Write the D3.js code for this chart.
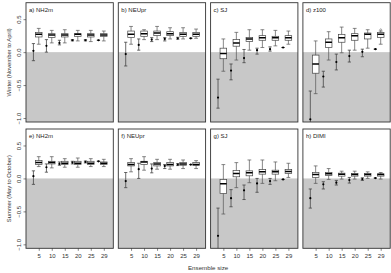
<!DOCTYPE html>
<html>
<head>
<meta charset="utf-8">
<script src="https://cdn.jsdelivr.net/npm/d3@7"></script>
<style>
  body { margin: 0; background: #fff; }
  text { font-family: "Liberation Sans", Arial, sans-serif; }
</style>
</head>
<body>
<div id="chart"></div>
<script>
const ensembleSizes = [5, 10, 15, 20, 25, 29];
const yTicks = [0.5, 0.0, -0.5, -1.0];
const panelLabels = ["a) NH2m", "b) NEUpr", "c) SJ", "d) z100", "e) NH2m", "f) NEUpr", "g) SJ", "h) DIMI"];
const rowTitles = ["Winter (November to April)", "Summer (May to October)"];

// boxes: [whisker low, q1, median, q3, whisker high]
// points: [mean, error low, error high]
const boxA = [[0.12, 0.23, 0.27, 0.30, 0.36], [0.14, 0.22, 0.26, 0.28, 0.33], [0.14, 0.23, 0.26, 0.28, 0.34], [0.17, 0.24, 0.27, 0.28, 0.33], [0.16, 0.23, 0.26, 0.28, 0.33], [0.17, 0.24, 0.26, 0.28, 0.32]];
const pointA = [[0.02, -0.13, 0.13], [0.095, 0.0, 0.19], [0.14, 0.11, 0.18], [0.18, 0.17, 0.19], [0.18, 0.17, 0.19], [0.18, 0.18, 0.18]];
const boxB = [[0.12, 0.22, 0.27, 0.32, 0.39], [0.19, 0.24, 0.28, 0.32, 0.34], [0.19, 0.25, 0.29, 0.32, 0.39], [0.20, 0.25, 0.28, 0.31, 0.37], [0.20, 0.24, 0.27, 0.30, 0.37], [0.21, 0.24, 0.27, 0.30, 0.35]];
const pointB = [[-0.03, -0.21, 0.15], [0.11, 0.03, 0.20], [0.19, 0.16, 0.22], [0.20, 0.17, 0.22], [0.21, 0.195, 0.225], [0.21, 0.21, 0.21]];
const boxC = [[-0.29, -0.10, -0.02, 0.06, 0.20], [-0.12, 0.09, 0.14, 0.19, 0.30], [0.03, 0.16, 0.20, 0.22, 0.34], [0.07, 0.18, 0.22, 0.25, 0.34], [0.095, 0.18, 0.22, 0.24, 0.33], [0.12, 0.18, 0.22, 0.25, 0.32]];
const pointC = [[-0.69, -0.85, -0.41], [-0.28, -0.42, -0.18], [-0.09, -0.16, 0.04], [0.03, -0.03, 0.06], [0.045, 0.015, 0.08], [0.07, 0.07, 0.07]];
const boxD = [[-0.63, -0.32, -0.18, -0.045, 0.17], [-0.12, 0.07, 0.15, 0.20, 0.31], [-0.01, 0.15, 0.22, 0.27, 0.38], [0.03, 0.18, 0.25, 0.28, 0.36], [0.06, 0.20, 0.27, 0.29, 0.34], [0.12, 0.22, 0.27, 0.30, 0.32]];
const pointD = [[-1.02, -1.10, -0.59], [-0.37, -0.53, -0.29], [-0.15, -0.27, -0.03], [-0.06, -0.15, 0.03], [0.005, -0.07, 0.045], [0.045, 0.045, 0.045]];
const outlierD = [null, null, null, null, null, 0.34];
const boxE = [[0.18, 0.21, 0.24, 0.27, 0.33], [0.16, 0.22, 0.24, 0.26, 0.33], [0.17, 0.21, 0.23, 0.26, 0.30], [0.17, 0.21, 0.23, 0.26, 0.31], [0.18, 0.21, 0.23, 0.26, 0.30], [0.18, 0.21, 0.23, 0.25, 0.29]];
const pointE = [[0.035, -0.09, 0.115], [0.17, 0.095, 0.22], [0.22, 0.20, 0.25], [0.24, 0.22, 0.26], [0.25, 0.235, 0.265], [0.26, 0.26, 0.26]];
const boxF = [[0.10, 0.19, 0.21, 0.24, 0.30], [0.125, 0.21, 0.25, 0.26, 0.33], [0.14, 0.19, 0.22, 0.24, 0.29], [0.14, 0.19, 0.21, 0.24, 0.29], [0.15, 0.20, 0.22, 0.24, 0.28], [0.15, 0.20, 0.21, 0.24, 0.27]];
const pointF = [[-0.04, -0.14, 0.09], [0.14, 0.0, 0.23], [0.15, 0.085, 0.22], [0.19, 0.15, 0.21], [0.21, 0.195, 0.225], [0.21, 0.21, 0.21]];
const boxG = [[-0.54, -0.23, -0.08, -0.015, 0.21], [-0.14, 0.025, 0.075, 0.12, 0.24], [-0.065, 0.04, 0.085, 0.115, 0.28], [-0.075, 0.065, 0.10, 0.135, 0.28], [-0.035, 0.065, 0.10, 0.125, 0.25], [0.015, 0.075, 0.105, 0.135, 0.23]];
const pointG = [[-0.87, -1.10, -0.45], [-0.30, -0.43, -0.17], [-0.18, -0.32, -0.10], [-0.075, -0.21, 0.0], [-0.04, -0.09, 0.0], [-0.015, -0.015, -0.015]];
const boxH = [[-0.075, 0.015, 0.06, 0.09, 0.19], [-0.015, 0.045, 0.07, 0.09, 0.15], [-0.01, 0.035, 0.065, 0.08, 0.11], [-0.01, 0.035, 0.06, 0.075, 0.11], [0.0, 0.035, 0.06, 0.075, 0.10], [-0.01, 0.035, 0.06, 0.07, 0.09]];
const pointH = [[-0.30, -0.45, -0.16], [-0.09, -0.16, -0.05], [-0.065, -0.10, -0.03], [-0.025, -0.07, 0.015], [-0.01, -0.03, 0.01], [0.005, 0.005, 0.005]];

const panels = [
  {boxes: boxA, points: pointA}, {boxes: boxB, points: pointB},
  {boxes: boxC, points: pointC}, {boxes: boxD, points: pointD, outliers: outlierD},
  {boxes: boxE, points: pointE}, {boxes: boxF, points: pointF},
  {boxes: boxG, points: pointG}, {boxes: boxH, points: pointH}
];

const width = 391, height = 273;
const panelW = 87.3, panelStep = 92.3, left0 = 26;
const rowTop = [2.7, 129], panelH = 119.3;

const svg = d3.select("#chart").append("svg")
    .attr("width", width)
    .attr("height", height);

panels.forEach((p, k) => {
  const row = Math.floor(k / 4), col = k % 4;
  const x0 = left0 + col * panelStep, y0 = rowTop[row];

  const x = d3.scaleLinear().domain([0.02, 6.73]).range([x0, x0 + panelW]);
  const y = d3.scaleLinear().domain([-1.06, 0.75]).range([y0 + panelH, y0]);

  const g = svg.append("g");
  const clipId = "clip" + k;
  g.append("clipPath").attr("id", clipId)
    .append("rect")
      .attr("x", x0).attr("y", y0)
      .attr("width", panelW).attr("height", panelH);

  // negative skill shading
  g.append("rect")
      .attr("x", x0).attr("y", y(0))
      .attr("width", panelW).attr("height", y(-1.06) - y(0))
      .attr("fill", "#c8c8c8");

  const inner = g.append("g").attr("clip-path", `url(#${clipId})`);

  // mean with error bars, left of each box
  p.points.forEach((d, i) => {
    const px = x(i + 1 - 0.41);
    inner.append("line")
        .attr("x1", px).attr("x2", px)
        .attr("y1", y(d[1])).attr("y2", y(d[2]))
        .attr("stroke", "#444").attr("stroke-width", 0.8);
    [d[1], d[2]].forEach(v => inner.append("line")
        .attr("x1", px - 1.6).attr("x2", px + 1.6)
        .attr("y1", y(v)).attr("y2", y(v))
        .attr("stroke", "#444").attr("stroke-width", 0.8));
    inner.append("circle")
        .attr("cx", px).attr("cy", y(d[0]))
        .attr("r", 1.1).attr("fill", "#000");
  });

  // box plots
  p.boxes.forEach((b, i) => {
    const bx = x(i + 1), hw = 3.3, cw = 1.9;
    inner.append("line")
        .attr("x1", bx).attr("x2", bx)
        .attr("y1", y(b[0])).attr("y2", y(b[4]))
        .attr("stroke", "#555").attr("stroke-width", 0.7);
    [b[0], b[4]].forEach(v => inner.append("line")
        .attr("x1", bx - cw).attr("x2", bx + cw)
        .attr("y1", y(v)).attr("y2", y(v))
        .attr("stroke", "#555").attr("stroke-width", 0.7));
    inner.append("rect")
        .attr("x", bx - hw).attr("y", y(b[3]))
        .attr("width", 2 * hw).attr("height", y(b[1]) - y(b[3]))
        .attr("fill", "#fff").attr("stroke", "#444").attr("stroke-width", 0.7);
    inner.append("line")
        .attr("x1", bx - hw).attr("x2", bx + hw)
        .attr("y1", y(b[2])).attr("y2", y(b[2]))
        .attr("stroke", "#000").attr("stroke-width", 1.5);
    if (p.outliers && p.outliers[i] != null) {
      inner.append("circle")
          .attr("cx", bx).attr("cy", y(p.outliers[i]))
          .attr("r", 0.9).attr("fill", "none")
          .attr("stroke", "#555").attr("stroke-width", 0.5);
    }
  });

  g.append("rect")
      .attr("x", x0).attr("y", y0)
      .attr("width", panelW).attr("height", panelH)
      .attr("fill", "none").attr("stroke", "#333").attr("stroke-width", 0.9);

  g.append("text")
      .attr("x", x0 + 3).attr("y", y0 + 9)
      .attr("font-size", 6).attr("fill", "#222")
      .text(panelLabels[k]);

  if (col === 0) {
    const ax = g.append("g")
        .attr("transform", `translate(${x0},0)`)
        .call(d3.axisLeft(y).tickValues(yTicks).tickSize(2.5).tickFormat(d3.format(".1f")));
    ax.select(".domain").remove();
    ax.selectAll(".tick line").attr("stroke", "#333").attr("stroke-width", 0.6);
    ax.selectAll(".tick text")
        .attr("font-size", 6).attr("fill", "#333")
        .attr("font-family", "Liberation Sans, Arial, sans-serif")
        .attr("text-anchor", "middle")
        .attr("x", 0).attr("dy", 0)
        .attr("transform", "translate(-5.5,0) rotate(-90)");
    svg.append("text")
        .attr("transform", `translate(10.5,${y0 + panelH / 2}) rotate(-90)`)
        .attr("text-anchor", "middle")
        .attr("font-size", 5.8).attr("fill", "#333")
        .text(rowTitles[row]);
  }

  if (row === 1) {
    const ax = g.append("g")
        .attr("transform", `translate(0,${y0 + panelH})`)
        .call(d3.axisBottom(x).tickValues(d3.range(1, 7)).tickSize(2.5)
          .tickFormat(i => ensembleSizes[i - 1]));
    ax.select(".domain").remove();
    ax.selectAll(".tick line").attr("stroke", "#333").attr("stroke-width", 0.6);
    ax.selectAll(".tick text")
        .attr("font-size", 6).attr("fill", "#333")
        .attr("font-family", "Liberation Sans, Arial, sans-serif")
        .attr("y", 5).attr("dy", "0.71em");
  }
});

svg.append("text")
    .attr("x", left0 + (3 * panelStep + panelW) / 2).attr("y", 270)
    .attr("text-anchor", "middle")
    .attr("font-size", 6.2).attr("fill", "#333")
    .text("Ensemble size");
</script>
</body>
</html>
